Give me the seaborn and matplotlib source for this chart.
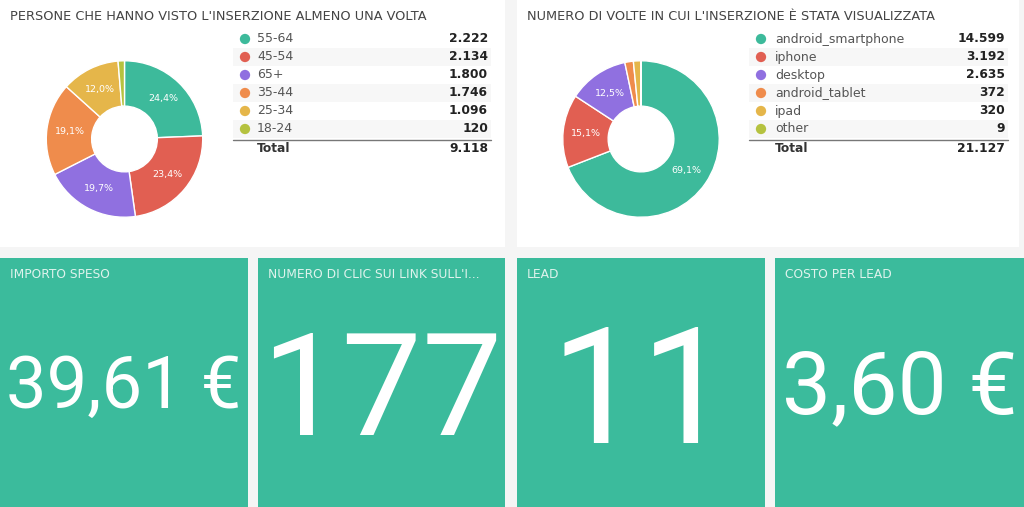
import matplotlib
matplotlib.use("Agg")
import matplotlib.pyplot as plt
import seaborn as sns
from matplotlib.patches import Rectangle

# ---- data ----
age_title = "PERSONE CHE HANNO VISTO L'INSERZIONE ALMENO UNA VOLTA"
age_groups = ["55-64", "45-54", "65+", "35-44", "25-34", "18-24"]
age_reach = [2222, 2134, 1800, 1746, 1096, 120]

device_title = "NUMERO DI VOLTE IN CUI L'INSERZIONE È STATA VISUALIZZATA"
devices = ["android_smartphone", "iphone", "desktop", "android_tablet", "ipad", "other"]
device_impressions = [14599, 3192, 2635, 372, 320, 9]

kpi_titles = ["IMPORTO SPESO", "NUMERO DI CLIC SUI LINK SULL'I...", "LEAD", "COSTO PER LEAD"]
kpi_values = ["39,61 €", "177", "11", "3,60 €"]

palette = ["#3dba9b", "#e15f52", "#9070e0", "#ef8c4c", "#e5b64a", "#b5c23f"]
TEAL = "#3bbb9c"

sns.set_theme(style="white")
plt.rcParams["font.family"] = ["DejaVu Sans"]

W, H = 1024, 507
fig = plt.figure(figsize=(W / 100, H / 100), dpi=100, facecolor="#f5f5f5")

# full-figure axes in pixel coordinates for panels, tables and tiles
bg = fig.add_axes([0, 0, 1, 1])
bg.set_facecolor("#f5f5f5")


def it_num(v):
    return f"{v:,}".replace(",", ".")


def donut(cx, cy, r, values):
    ax = fig.add_axes([(cx - r) / W, 1 - (cy + r) / H, 2 * r / W, 2 * r / H])
    ax.pie(values, colors=palette, startangle=90, counterclock=False, radius=1,
           wedgeprops=dict(width=0.58, edgecolor="white", linewidth=1),
           autopct=lambda p: f"{p:.1f}%".replace(".", ",") if p >= 5 else "",
           pctdistance=0.71, textprops=dict(color="white", fontsize=6.8))
    ax.set_xlim(-1.01, 1.01)
    ax.set_ylim(-1.01, 1.01)
    ax.set_aspect("equal")
    ax.axis("off")


def table(x_left, x_dot, x_text, x_right, labels, values):
    ys = [39 + 18 * i for i in range(len(labels))]
    for i, (lab, v) in enumerate(zip(labels, values)):
        if i % 2 == 1:
            bg.add_patch(Rectangle((x_left, ys[i] - 9), x_right + 3 - x_left, 18,
                                   color="#f7f7f7", zorder=1, lw=0))
        bg.text(x_text, ys[i], lab, ha="left", va="center", fontsize=9,
                color="#555555", zorder=4)
        bg.text(x_right, ys[i], it_num(v), ha="right", va="center", fontsize=8.8,
                weight="bold", color="#222222", zorder=4)
    sns.scatterplot(x=[x_dot] * len(labels), y=ys, hue=labels, palette=palette,
                    s=55, legend=False, edgecolor="none", ax=bg, zorder=3)
    bg.plot([x_left, x_right + 3], [140, 140], color="#777777", lw=1, zorder=4)
    bg.text(x_text, 148, "Total", ha="left", va="center", fontsize=8.8,
            weight="bold", color="#333333", zorder=4)
    bg.text(x_right, 148, it_num(sum(values)), ha="right", va="center",
            fontsize=8.8, weight="bold", color="#222222", zorder=4)


# top panels
for x0, x1, title in [(0, 505, age_title), (517, 1019, device_title)]:
    bg.add_patch(Rectangle((x0, 0), x1 - x0, 247, color="white", zorder=0, lw=0))
    bg.text(x0 + 10, 16, title, ha="left", va="center", fontsize=9.3,
            color="#444444", zorder=4)

table(233, 245, 257, 488, age_groups, age_reach)
table(749, 761, 775, 1005, devices, device_impressions)

# KPI tiles
tiles = [(0, 248), (258, 505), (517, 765), (775, 1024)]
value_sizes = [52, 103, 116, 63]
baselines = [408, 435, 443, 413]
for (x0, x1), t, v, fs, yb in zip(tiles, kpi_titles, kpi_values, value_sizes, baselines):
    bg.add_patch(Rectangle((x0, 258), x1 - x0, 260, color=TEAL, zorder=0, lw=0))
    bg.text(x0 + 10, 275, t, ha="left", va="center", fontsize=8.8,
            color="#dff3ed", zorder=4)
    bg.text((x0 + x1) / 2, yb, v, ha="center", va="baseline", fontsize=fs,
            family=["Roboto", "DejaVu Sans"], weight="normal", color="white", zorder=4)

bg.set_xlim(0, W)
bg.set_ylim(H, 0)
bg.axis("off")

donut(124.5, 139, 79, age_reach)
donut(641, 139, 79, device_impressions)

fig.savefig("out.png", dpi=100, facecolor=fig.get_facecolor())
